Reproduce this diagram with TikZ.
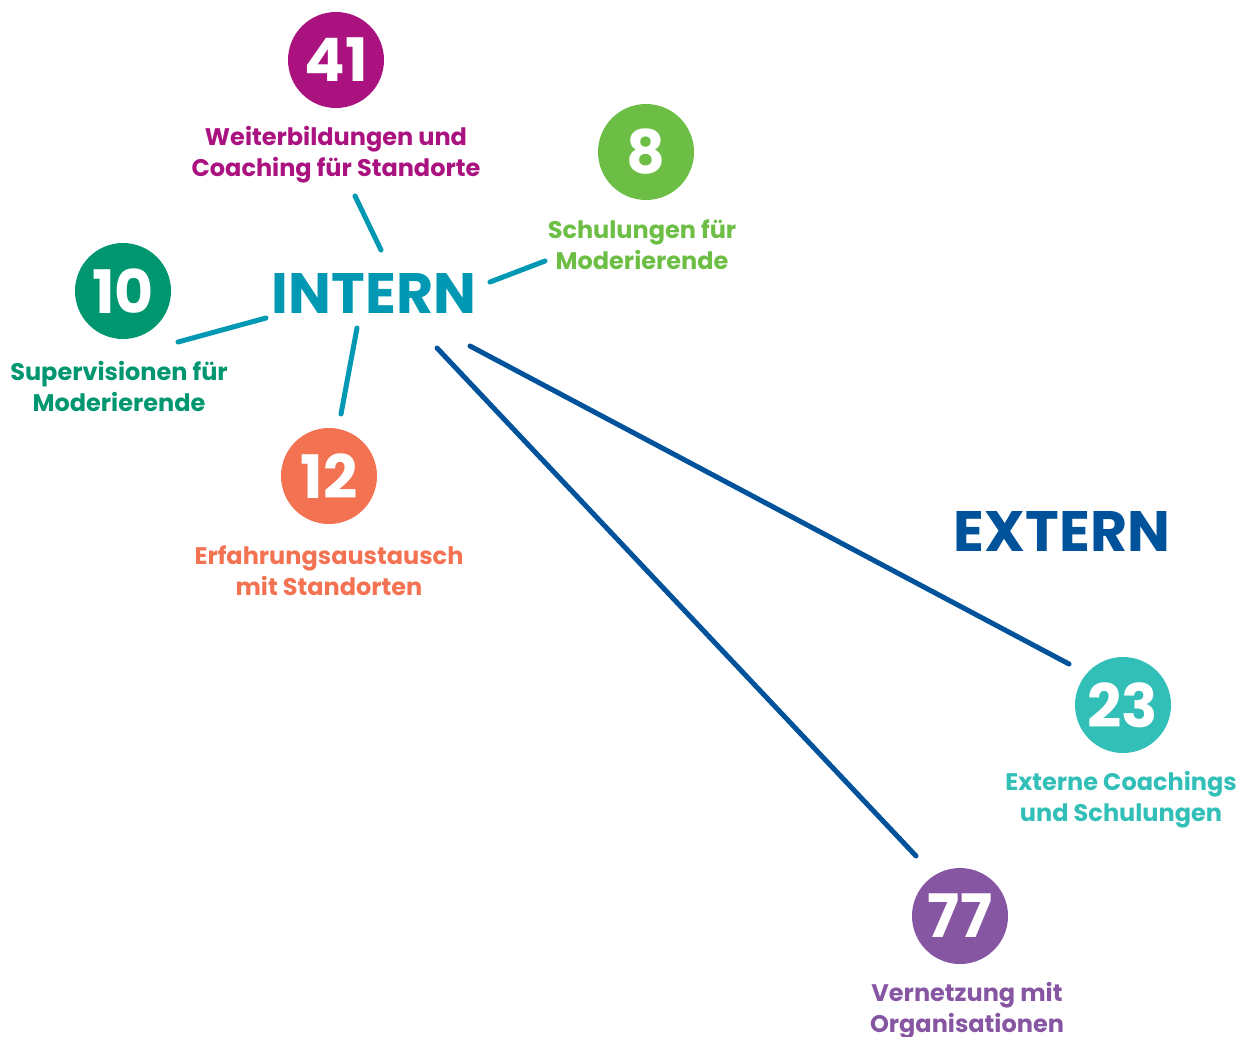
\documentclass[tikz,border=0pt]{standalone}
\usepackage{fontspec}
\setmainfont{Poppins}
\usepackage{tikz}

\definecolor{cMagenta}{HTML}{AA1280}
\definecolor{cGreen}{HTML}{6CBE45}
\definecolor{cDarkGreen}{HTML}{009670}
\definecolor{cOrange}{HTML}{F37252}
\definecolor{cTurq}{HTML}{32BFB8}
\definecolor{cPurple}{HTML}{8756A3}
\definecolor{cIntern}{HTML}{0098B2}
\definecolor{cExtern}{HTML}{00529B}

\begin{document}
\begin{tikzpicture}[x=1pt, y=-1pt, node distance={95pt},
	main/.style = {circle, minimum size=96pt, inner sep=0pt, text=white,
		font=\fontsize{60}{60}\selectfont\bfseries},
	lbl/.style = {align=center, inner sep=0pt,
		font=\fontsize{24}{31}\selectfont\bfseries},
	head/.style = {inner sep=0pt, font=\fontsize{57}{57}\selectfont\bfseries},
	tline/.style = {cIntern, line width=5pt, line cap=round},
	eline/.style = {cExtern, line width=5pt, line cap=round}]
\useasboundingbox (0,0) rectangle (1246,1036);
\node[head, text=cIntern] (intern) at (374,293) {INTERN};
\node[head, text=cExtern] (extern) at (1062,531) {EXTERN};

\node[main, fill=cMagenta] (41) at (336,60) {41};
\node[lbl, text=cMagenta] (t41) [below of=41] {Weiterbildungen und\\Coaching für Standorte};
\node[main, fill=cGreen] (8) at (646,152) {8};
\node[lbl, text=cGreen, xshift=-4pt, yshift=2pt] (t8) [below of=8] {Schulungen für\\Moderierende};
\node[main, fill=cDarkGreen] (10) at (123,291) {10};
\node[lbl, text=cDarkGreen, xshift=-4pt] (t10) [below of=10] {Supervisionen für\\Moderierende};
\node[main, fill=cOrange] (12) at (329,476) {12};
\node[lbl, text=cOrange] (t12) [below of=12] {Erfahrungsaustausch\\mit Standorten};
\node[main, fill=cTurq] (23) at (1123,705) {23};
\node[lbl, text=cTurq, xshift=-2pt] (t23) [below of=23] {Externe Coachings\\und Schulungen};
\node[main, fill=cPurple] (77) at (960,916) {77};
\node[lbl, text=cPurple, xshift=7pt] (t77) [below of=77] {Vernetzung mit\\Organisationen};

% connector ends
\coordinate (i41) at (381,250); \coordinate (o41) at (355,196);
\coordinate (i8) at (490,282);  \coordinate (o8) at (545,261);
\coordinate (i10) at (266,318); \coordinate (o10) at (178,342);
\coordinate (i12) at (357,328); \coordinate (o12) at (341,414);
\coordinate (i23) at (470,346); \coordinate (o23) at (1069,664);
\coordinate (i77) at (437,348); \coordinate (o77) at (916,856);

\draw[tline] (i41) -- (o41);
\draw[tline] (i8) -- (o8);
\draw[tline] (i10) -- (o10);
\draw[tline] (i12) -- (o12);
\draw[eline] (i23) -- (o23);
\draw[eline] (i77) -- (o77);
\end{tikzpicture}
\end{document}
